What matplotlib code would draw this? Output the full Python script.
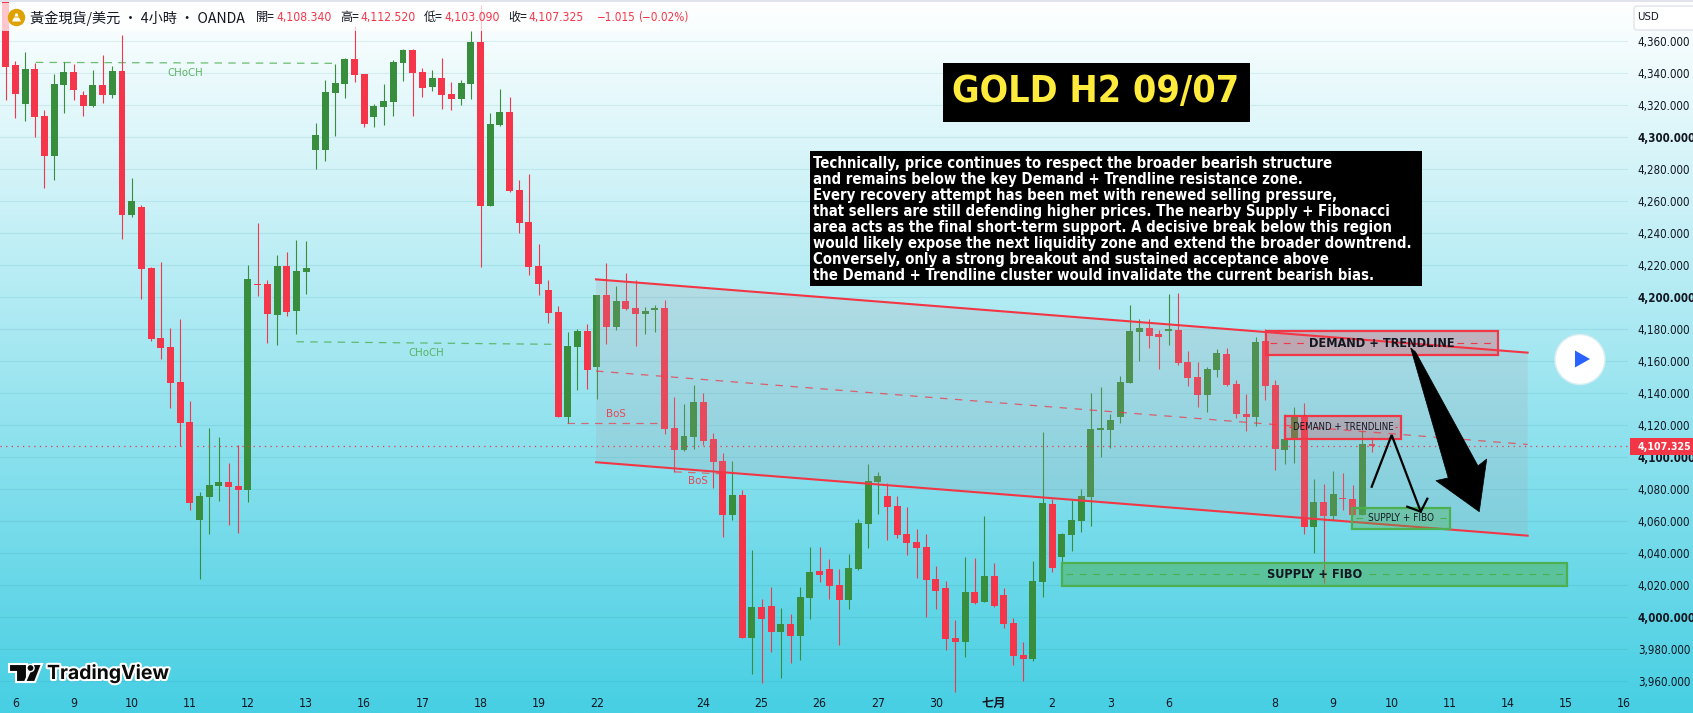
import numpy as np
import matplotlib
matplotlib.use("Agg")
import matplotlib.pyplot as plt
from matplotlib.patches import Polygon, Rectangle, Circle, FancyBboxPatch
import matplotlib.patheffects as pe

W, H = 1693, 713
CJK = ['Noto Sans CJK TC', 'DejaVu Sans']
LAT = 'DejaVu Sans'
MIX = ['DejaVu Sans', 'Noto Sans CJK TC']
COND = 'condensed'
RED = '#F5364A'
GREEN = '#388E3C'
LINE_RED = '#F23645'
BOX_GREEN = '#4CAF50'
INK = '#131722'

# ---------- OHLC data (one 4h bar per entry) ----------
opens = [4386.0,4345.2,4320.8,4342.7,4313.3,4288.3,4332.7,4340.8,4326.4,4319.6,4332.7,4326.4,4341.4,4251.4,4256.4,4218.3,4174.5,4168.9,4147.0,4122.0,
 4060.8,4075.2,4082.0,4084.5,4082.0,4079.5,4208.3,4208.3,4188.9,4219.5,4191.4,4215.8,4292.0,4292.0,4327.7,4333.3,4348.9,4339.6,4312.7,4318.9,
 4322.0,4346.4,4354.5,4340.8,4331.4,4337.0,4327.0,4323.9,4333.3,4359.5,4257.0,4307.7,4315.8,4267.0,4247.0,4219.5,4204.5,4190.8,4125.2,4168.9,
 4178.9,4156.4,4201.4,4181.4,4197.7,4193.3,4189.5,4192.0,4193.3,4118.3,4104.5,4112.7,4134.5,4111.4,4097.7,4063.9,4076.4,3987.0,4006.4,4007.0,
 3990.8,3995.8,3988.3,4012.0,4028.9,4030.2,4020.2,4010.8,4030.2,4058.3,4084.5,4075.8,4069.5,4052.0,4047.0,4043.9,4023.9,4018.3,3987.0,3984.5,
 4015.8,4009.5,4025.8,4013.9,3996.4,3976.4,3973.9,4022.0,4070.8,4037.7,4051.4,4060.2,4075.2,4117.0,4117.0,4125.2,4146.4,4178.3,4180.8,4177.0,
 4178.9,4179.5,4159.5,4150.2,4139.0,4154.5,4164.5,4145.8,4127.0,4125.2,4172.7,4145.2,4104.5,4111.4,4125.8,4056.4,4072.0,4063.3,4074.5,4073.9,
 4063.9,4108.34]
highs = [4395.0,4347.7,4353.3,4346.4,4317.0,4339.6,4347.0,4345.8,4328.9,4342.0,4351.4,4344.5,4363.9,4274.5,4257.7,4218.9,4222.0,4180.6,4186.4,4135.2,
 4078.3,4118.3,4112.7,4096.4,4107.7,4220.2,4246.4,4210.8,4226.4,4228.3,4235.8,4235.2,4308.9,4335.8,4345.8,4349.5,4369.5,4339.6,4320.8,4333.3,
 4348.3,4355.2,4355.2,4343.3,4342.0,4349.5,4334.5,4335.8,4366.4,4382.7,4315.2,4330.2,4325.2,4273.3,4277.0,4233.3,4210.8,4194.5,4178.3,4180.2,
 4183.3,4201.4,4221.4,4207.0,4215.2,4210.8,4193.9,4195.2,4198.3,4137.7,4133.3,4145.2,4140.2,4115.2,4102.7,4097.7,4079.5,4042.0,4011.4,4018.9,
 4005.8,4002.0,4018.9,4043.9,4043.9,4036.4,4030.2,4039.5,4061.4,4095.8,4090.8,4083.9,4075.8,4068.9,4055.2,4052.0,4032.0,4022.7,3998.3,4037.7,
 4037.0,4063.3,4033.9,4018.3,3999.5,3984.5,4035.2,4115.8,4073.9,4052.7,4073.3,4080.2,4140.2,4143.9,4127.0,4150.8,4195.2,4186.4,4186.4,4179.5,
 4202.0,4202.7,4166.4,4159.5,4156.4,4167.7,4168.3,4148.3,4139.5,4175.2,4180.2,4148.3,4127.0,4131.4,4133.9,4086.4,4083.3,4091.4,4090.2,4082.7,
 4117.0,4112.52]
lows = [4323.3,4312.0,4310.2,4300.2,4268.3,4273.3,4315.2,4323.3,4313.3,4318.9,4321.4,4324.5,4236.4,4250.2,4198.9,4172.7,4161.4,4130.8,4107.0,4067.0,
 4023.9,4052.0,4072.7,4057.7,4052.7,4072.0,4200.8,4171.4,4170.2,4188.3,4177.0,4202.0,4280.2,4285.2,4300.8,4324.5,4334.5,4306.4,4306.4,4307.7,
 4313.3,4335.2,4313.3,4325.2,4328.9,4317.7,4317.0,4320.2,4323.9,4218.9,4257.0,4307.0,4265.8,4240.2,4213.9,4201.4,4183.9,4125.2,4121.4,4142.0,
 4142.7,4136.4,4170.8,4179.5,4192.0,4169.5,4177.0,4178.3,4114.5,4090.8,4103.9,4105.2,4107.7,4080.8,4050.2,4060.8,3987.0,3964.5,3958.9,3978.3,
 3962.0,3971.4,3973.3,3998.9,4022.0,4011.4,3982.7,4005.2,4029.5,4043.3,4064.5,4048.3,4049.5,4038.9,4024.5,4000.2,4005.2,3979.5,3953.3,3975.2,
 4008.3,4009.5,4006.4,3993.3,3970.2,3960.2,3972.7,4012.7,4028.3,4033.9,4041.4,4053.3,4057.0,4100.2,4105.8,4121.4,4146.4,4160.2,4168.3,4155.2,
 4170.2,4157.7,4144.5,4131.4,4128.3,4150.2,4144.5,4124.5,4116.4,4119.5,4135.8,4092.0,4095.8,4096.4,4052.0,4040.2,4021.4,4060.8,4067.0,4063.9,
 4063.9,4103.09]
closes = [4344.1,4327.0,4342.7,4312.7,4288.3,4333.3,4340.8,4329.5,4319.6,4332.7,4326.4,4341.4,4251.4,4260.2,4217.7,4173.9,4168.3,4146.4,4121.4,4071.4,
 4075.8,4082.7,4084.5,4081.4,4079.5,4211.4,4207.7,4189.5,4219.5,4190.8,4216.4,4218.3,4301.4,4328.3,4333.9,4348.9,4338.9,4308.3,4319.6,4322.7,
 4347.0,4354.5,4340.2,4330.8,4337.0,4326.4,4323.9,4333.9,4359.5,4257.0,4308.3,4315.8,4266.4,4246.4,4218.9,4208.3,4190.2,4125.2,4169.5,4178.9,
 4154.6,4201.4,4181.4,4197.7,4192.7,4189.5,4191.4,4193.3,4117.7,4104.5,4113.3,4134.5,4110.2,4097.0,4063.9,4076.4,3987.0,4006.4,3998.9,3990.8,
 3995.8,3988.3,4012.7,4028.3,4026.4,4019.5,4010.8,4030.8,4058.9,4085.2,4088.3,4068.9,4051.4,4046.4,4043.3,4023.3,4016.4,3986.4,3984.5,4015.8,
 4008.9,4025.8,4007.0,3995.8,3975.8,3973.9,4022.7,4071.4,4030.8,4052.0,4060.8,4075.8,4117.7,4118.3,4123.3,4147.0,4178.9,4180.8,4175.8,4175.2,
 4180.2,4158.9,4149.5,4139.0,4155.2,4165.2,4145.2,4127.0,4125.2,4172.0,4144.5,4105.2,4111.4,4125.8,4056.4,4072.0,4063.3,4077.0,4073.9,4063.9,
 4108.3,4107.325]

# ---------- axes labels ----------
price_ticks = [3960,3980,4000,4020,4040,4060,4080,4100,4120,4140,4160,4180,4200,4220,4240,4260,4280,4300,4320,4340,4360]
bold_prices = {4000, 4100, 4200, 4300}
day_bars = [2,8,14,20,26,32,38,44,50,56,62,73,79,85,91,97,103,109,115,121,132,138,144,150,156,162,168]
day_labels = ['6','9','10','11','12','13','16','17','18','19','22','24','25','26','27','30','七月','2','3','6','8','9','10','11','14','15','16']
last_price = 4107.325

# ---------- drawings (bar number, price) ----------
channel_x = [61.92, 158.06]
channel_upper = [4211.2, 4165.4]
channel_mid = [4153.9, 4108.0]
channel_lower = [4096.9, 4051.0]
demand_big = (131.03, 155.03, 4163.9, 4178.9, 4171.2)
demand_small = (133.02, 145.03, 4111.4, 4126.0, 4118.7)
supply_small = (139.97, 150.08, 4055.4, 4068.5, 4062.0)
supply_big = (109.98, 162.09, 4019.6, 4034.1, 4026.9)
thin_arrow_x, thin_arrow_y = [141.97,144.03,147.03], [4081.6,4113.9,4066.0]
head_x, head_y = [145.64,147.03,147.71], [4069.1,4066.0,4074.1]
big_arrow = [(145.99,4168.3),(146.5,4165.8),(152.94,4094.6),(153.84,4098.9),(153.07,4066.0),(148.6,4085.4),(149.87,4087.1)]

commentary = [
 "Technically, price continues to respect the broader bearish structure",
 "and remains below the key Demand + Trendline resistance zone.",
 "Every recovery attempt has been met with renewed selling pressure,",
 "that sellers are still defending higher prices. The nearby Supply + Fibonacci",
 "area acts as the final short-term support. A decisive break below this region",
 "would likely expose the next liquidity zone and extend the broader downtrend.",
 "Conversely, only a strong breakout and sustained acceptance above",
 "the Demand + Trendline cluster would invalidate the current bearish bias.",
]

fig = plt.figure(figsize=(W/100, H/100), dpi=100)

# gradient background
bg = fig.add_axes([0,0,1,1], zorder=0)
top = np.array([255,255,255])/255; bot = np.array([71,207,227])/255
t = np.linspace(0,1,256)[:,None,None]
bg.imshow(top*(1-t)+bot*t, aspect='auto', extent=[0,1,0,1])
bg.axis('off')

# main price axes
ax_bottom = 695
ax = fig.add_axes([0,(H-ax_bottom)/H,1628/W,ax_bottom/H], zorder=1)
ax.patch.set_alpha(0)
ax.set_xlim(0.41,168.42)
ax.set_ylim(4385.8-0.625*ax_bottom,4385.8)
for s in ax.spines.values(): s.set_visible(False)
ax.yaxis.tick_right()
ax.set_yticks(price_ticks)
ax.set_yticklabels([f"{p:,.3f}" for p in price_ticks], fontfamily=LAT, fontstretch=COND, fontsize=8.3, color=INK)
for lab,p in zip(ax.get_yticklabels(), price_ticks):
    if p in bold_prices: lab.set_fontweight('bold')
ax.set_xticks(day_bars)
ax.set_xticklabels(day_labels, fontfamily=MIX, fontstretch=COND, fontsize=8.8, color=INK)
for lab,txt in zip(ax.get_xticklabels(), day_labels):
    if txt=='七月': lab.set_fontweight('bold')
ax.tick_params(axis='both', length=0)
ax.tick_params(axis='y', pad=7)
ax.tick_params(axis='x', pad=1.5)
ax.grid(axis='y', color='#1F8A9A', alpha=0.12, lw=0.8, zorder=0)
ax.set_axisbelow(True)

# candles
idx = np.arange(1,len(opens)+1)
o,h,l,c = map(np.array,(opens,highs,lows,closes))
cols = np.where(c>=o, GREEN, RED)
ax.vlines(idx,l,h,colors=cols,lw=0.8,zorder=3)
ax.bar(idx,np.abs(c-o),bottom=np.minimum(o,c),width=0.72,color=cols,lw=0,zorder=3)

# channel
ax.add_patch(Polygon([(channel_x[0],channel_upper[0]),(channel_x[1],channel_upper[1]),
                      (channel_x[1],channel_lower[1]),(channel_x[0],channel_lower[0])],
                     fc=(170/255,160/255,170/255,0.2),ec='none',zorder=4))
ax.plot(channel_x,channel_upper,color=LINE_RED,lw=1.5,zorder=5)
ax.plot(channel_x,channel_lower,color=LINE_RED,lw=1.5,zorder=5)
ax.plot(channel_x,channel_mid,color=LINE_RED,lw=0.9,ls=(0,(6,6)),alpha=.75,zorder=5)

# price lines
ax.axhline(last_price,color=LINE_RED,lw=0.9,ls=(0,(1,3.5)),zorder=5)

# structure labels
ax.plot([4.1,35.2],[4346.8,4346.2],color=BOX_GREEN,lw=0.9,ls=(0,(6,5)),alpha=.8,zorder=2)
ax.plot([31,57.7],[4172.2,4170.6],color=BOX_GREEN,lw=0.9,ls=(0,(6,5)),alpha=.8,zorder=2)
ax.plot([58.9,68.7],[4121.6,4121.6],color=LINE_RED,lw=0.9,ls=(0,(6,5)),alpha=.7,zorder=5)
ax.plot([70,74.7],[4090.9,4089.7],color=LINE_RED,lw=0.9,ls=(0,(6,5)),alpha=.7,zorder=5)
for x,y,s,col in [(19.5,4340.2,'CHoCH',BOX_GREEN),(44.45,4165,'CHoCH',BOX_GREEN),
                  (64,4127,'BoS',LINE_RED),(72.4,4085.2,'BoS',LINE_RED)]:
    ax.text(x,y,s,color=col,fontsize=8.2,fontfamily=LAT,fontstretch=COND,ha='center',va='center',alpha=.9,zorder=6)

def zone(box,label,ec,fc,size,weight,gap,txtcol=INK):
    x0,x1,y0,y1,ym = box
    ax.add_patch(Rectangle((x0,y0),x1-x0,y1-y0,fc=fc,ec=ec,lw=1.6,zorder=6))
    cx=(x0+x1)/2
    ax.plot([x0+.4,cx-gap],[ym,ym],color=ec,lw=.8,ls=(0,(6,6)),zorder=7)
    ax.plot([cx+gap,x1-.4],[ym,ym],color=ec,lw=.8,ls=(0,(6,6)),zorder=7)
    ax.text(cx,ym,label,ha='center',va='center',fontsize=size,fontweight=weight,fontfamily=LAT,fontstretch=COND,color=txtcol,zorder=8)

zone(demand_big,'DEMAND + TRENDLINE',LINE_RED,(242/255,54/255,69/255,.3),9.1,'bold',7.7)
zone(demand_small,'DEMAND + TRENDLINE',LINE_RED,(242/255,54/255,69/255,.25),6.9,'normal',5.3)
zone(supply_small,'SUPPLY + FIBO',BOX_GREEN,(76/255,175/255,80/255,.35),7.2,'normal',4)
zone(supply_big,'SUPPLY + FIBO',BOX_GREEN,(76/255,175/255,80/255,.5),9.1,'bold',5.7)

# arrows
ax.plot(thin_arrow_x,thin_arrow_y,color='black',lw=1.6,zorder=9,solid_joinstyle='miter')
ax.plot(head_x,head_y,color='black',lw=1.6,zorder=9)
ax.add_patch(Polygon(big_arrow,fc='black',ec='black',lw=.5,zorder=9))

# overlay in pixel space for chrome
ov = fig.add_axes([0,0,1,1], zorder=2)
ov.set_xlim(0,W); ov.set_ylim(H,0); ov.axis('off'); ov.patch.set_alpha(0)

ov.add_patch(Rectangle((0,0),W,1.5,fc='#E0E3EB',ec='none'))
ov.add_patch(Rectangle((0,3),660,28,fc=(1,1,1,.72),ec='none',zorder=1))

# legend
ov.add_patch(Circle((16.5,17.5),8.7,fc='#DFA100',ec='none',zorder=2))
ov.add_patch(Polygon([(12,21.5),(21,21.5),(19,17.5),(14,17.5)],fc='white',ec='none',zorder=3))
ov.add_patch(Polygon([(14.5,16.5),(18.5,16.5),(17.5,13.5),(15.5,13.5)],fc='white',ec='none',zorder=3))
ov.text(29.5,18,'黃金現貨/美元 · 4小時 · OANDA',fontfamily=CJK,fontsize=10.2,color=INK,va='center',zorder=3)
for x,s,col,fam,fs in [(256,'開=',INK,CJK,8.7),(276.8,'4,108.340',RED,MIX,8.7),(340,'高=',INK,CJK,8.7),(360.7,'4,112.520',RED,MIX,8.7),
                (424,'低=',INK,CJK,8.7),(444.6,'4,103.090',RED,MIX,8.7),(508.6,'收=',INK,CJK,8.7),(528.6,'4,107.325',RED,MIX,8.7),
                (597,'−1.015',RED,MIX,8.4),(638,'(−0.02%)',RED,MIX,8.4)]:
    ov.text(x,17.5,s,fontfamily=fam,fontstretch=COND,fontsize=fs,color=col,va='center',zorder=3)

# title and commentary
ov.add_patch(Rectangle((943,63),306.5,58.7,fc='black',ec='none',zorder=3))
ov.text(1096,92.5,'GOLD H2 09/07',fontfamily=LAT,fontstretch=COND,fontweight='bold',fontsize=27,color='#FFEB3B',ha='center',va='center',zorder=4)
ov.add_patch(Rectangle((810,151),611.5,135,fc='black',ec='none',zorder=3))
for i,line in enumerate(commentary):
    ov.text(813,163.3+16*i,line,fontfamily=LAT,fontstretch=COND,fontweight='bold',fontsize=10.7,color='white',va='center',zorder=4)

# play button
ov.add_patch(Circle((1580,359.5),25,fc='white',ec='#d8eef2',lw=1,zorder=3))
ov.add_patch(Polygon([(1575,350.5),(1575,367.5),(1590,359)],fc='#2962FF',ec='none',zorder=4,joinstyle='round'))

# usd box and price tag
ov.add_patch(FancyBboxPatch((1634,6),70,24,boxstyle='round,pad=0,rounding_size=3',fc='white',ec='#E0E3EB',lw=1,zorder=3))
ov.text(1637.5,17.5,'USD',fontfamily=LAT,fontstretch=COND,fontsize=8.2,color=INK,va='center',zorder=4)
ov.add_patch(Rectangle((1630,438.3),63,16.7,fc=LINE_RED,ec='none',zorder=3))
ov.text(1637.7,446.5,f"{last_price:,.3f}",fontfamily=LAT,fontstretch=COND,fontweight='bold',fontsize=7.6,color='white',va='center',zorder=4)

# TradingView mark
halo=[pe.withStroke(linewidth=3,foreground='white')]
for pts in ([(8.5,664),(27,664),(27,682),(16,682),(16,672),(8.5,672)],[(33,664),(42,664),(35,682),(25,682)]):
    ov.add_patch(Polygon(pts,fc='#0b0b0b',ec='white',lw=1.5,zorder=3))
ov.add_patch(Circle((30.5,668),3.6,fc='#0b0b0b',ec='white',lw=1,zorder=3))
ov.text(47,673.5,'TradingView',fontfamily='Inter',fontweight='bold',fontsize=14,color='#0b0b0b',va='center',path_effects=halo,zorder=4)

fig.savefig('out.png',dpi=100)
